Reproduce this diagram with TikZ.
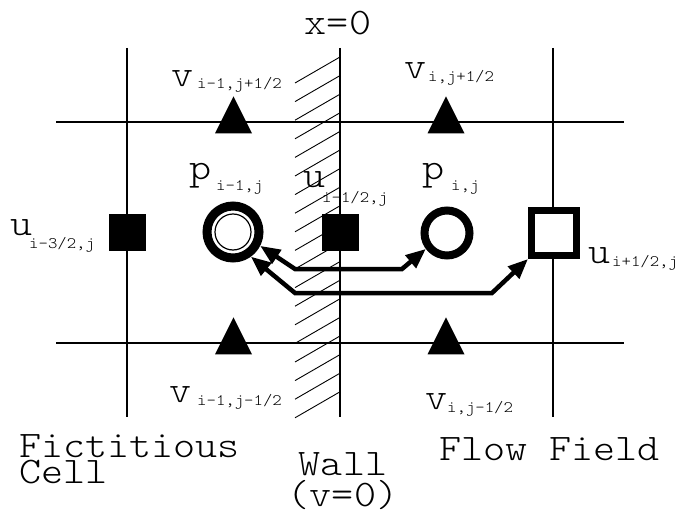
\documentclass[tikz,border=0pt]{standalone}
\usepackage{fontspec}
\setmonofont[FakeStretch=1.12]{Latin Modern Mono Light}
\usetikzlibrary{arrows.meta,shapes.geometric}

\begin{document}
\begin{tikzpicture}[x=1pt,y=-1pt]
\tikzset{
  bigtxt/.style={inner sep=0pt,font=\fontsize{37.5}{40}\selectfont\ttfamily},
  subtxt/.style={inner sep=0pt,anchor=base west,font=\fontsize{16}{17}\selectfont\ttfamily},
  gridline/.style={line width=1.2pt},
  hatchline/.style={line width=0.9pt},
  fillsq/.style={rectangle,fill,inner sep=0pt,minimum size=37pt},
  hollowsq/.style={rectangle,draw,fill=white,line width=7pt,inner sep=0pt,minimum size=45pt,outer sep=3.5pt},
  vtri/.style={isosceles triangle,isosceles triangle apex angle=53.13,shape border rotate=90,fill,inner sep=0pt,minimum height=37pt,minimum width=37pt},
  pring/.style={circle,draw,inner sep=0pt},
  dualarrow/.style={{Triangle[length=20pt,width=16pt]}-{Triangle[length=20pt,width=16pt]},line width=4.5pt,line join=miter}
}
\useasboundingbox (0,0) rectangle (683,524);
\foreach \gx in {127,340,553} \draw[gridline] (\gx,48) -- (\gx,417);
\foreach \gy in {122,343} \draw[gridline] (56,\gy) -- (624,\gy);
\foreach \gy in {122,343} \draw[line width=2pt] (270,\gy) -- (340,\gy);
\foreach \k in {0,...,18} \draw[hatchline] (295,{83+18.6*\k}) -- (340,{57+18.6*\k});
\node[vtri] (n_vtl) at (233.5,122) {};
\node[vtri] (n_vtr) at (446,122) {};
\node[vtri] (n_vbl) at (233.5,343) {};
\node[vtri] (n_vbr) at (446,343) {};
\node[fillsq] (n_uil) at (127,232) {};
\node[fillsq] (n_uim) at (340,232) {};
\node[hollowsq] (n_uip) at (554,233) {};
\node[pring,line width=9pt,minimum size=52pt,outer sep=4.5pt] (n_pim) at (233,232) {};
\node[pring,line width=1.2pt,minimum size=36pt] (n_pimin) at (233,232) {};
\node[pring,line width=8pt,minimum size=45pt,outer sep=4pt] (n_pi) at (447,233) {};
\draw[dualarrow] (n_pim.-27) -- (295,269) -- (402,269) -- (n_pi.-143);
\draw[dualarrow] (n_pim.-54) -- (295,293) -- (492,293) -- (n_uip.south west);
\node[bigtxt,anchor=base] (t_x0) at (338,35) {x=0};
\node[bigtxt,anchor=base] (t_vtl) at (183,87) {v};
\node[subtxt] (s_vtl) at (197,89) {i-1,j+1/2};
\node[bigtxt,anchor=base] (t_vtr) at (416,79) {v};
\node[subtxt] (s_vtr) at (428,82) {i,j+1/2};
\node[bigtxt,anchor=base] (t_vbl) at (181,402) {v};
\node[subtxt] (s_vbl) at (197,405) {i-1,j-1/2};
\node[bigtxt,anchor=base] (t_vbr) at (437,409) {v};
\node[subtxt] (s_vbr) at (447,412) {i,j-1/2};
\node[bigtxt,anchor=base] (t_uil) at (22,235) {u};
\node[subtxt] (s_uil) at (29,248) {i-3/2,j};
\node[bigtxt,anchor=base] (t_uim) at (315,188) {u};
\node[subtxt] (s_uim) at (322,202) {i-1/2,j};
\node[bigtxt,anchor=base] (t_uip) at (600,263) {u};
\node[subtxt] (s_uip) at (612,266) {i+1/2,j};
\node[bigtxt,anchor=base] (t_pim) at (201,179) {p};
\node[subtxt] (s_pim) at (216,190) {i-1,j};
\node[bigtxt,anchor=base] (t_pi) at (434,179) {p};
\node[subtxt] (s_pi) at (451,190) {i,j};
\node[bigtxt,anchor=base west,align=left,font=\fontsize{37.5}{26}\selectfont\ttfamily] (t_fict) at (19,483) {Fictitious\\Cell};
\node[bigtxt,anchor=base,align=center,font=\fontsize{37.5}{31}\selectfont\ttfamily] (t_wall) at (343,506) {Wall\\(v=0)};
\node[bigtxt,anchor=base west] (t_flow) at (439,460) {Flow Field};
\end{tikzpicture}
\end{document}
